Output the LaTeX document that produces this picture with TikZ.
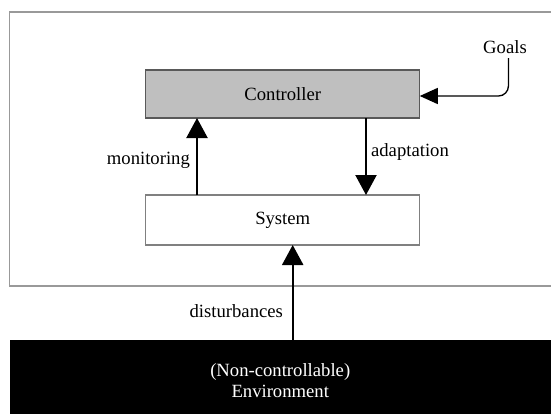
\documentclass[tikz,border=0pt]{standalone}
\usepackage{fontspec}
\setmainfont{Liberation Serif}
\usetikzlibrary{positioning}
\usetikzlibrary{arrows.meta}

\begin{document}
\begin{tikzpicture}[x=0.75pt, y=-0.75pt, outer sep=0, font=\fontsize{14}{15.75}\selectfont,
    box/.style={draw, rectangle, line width=1pt, minimum height=36pt, minimum width=205.5pt},
    flow/.style={line width=1.65pt, -{Triangle[width=15.75pt, length=15pt]}}]
        \useasboundingbox (0,0) rectangle (551,414);
        % outer frame
        \draw[black!40, line width=1pt] (9.5,12) rectangle (565,286);
        % controller and system
        \node [box, fill=gray!50, draw=black!65] (1) at (282.75,94) {Controller};
        \node [box, draw=black!50, minimum height=37.5pt, below = 57.75pt of 1] (2) {System};
        % environment
        \node [rectangle, fill=black, text=white, align=center, minimum width=406pt, minimum height=60.75pt] (3) at (280.25,380.5) {(Non-controllable)\\Environment};
        % goals
        \node (4) at (505,47) {Goals};
        \draw[line width=1pt, rounded corners=7.5pt, -{Triangle[width=12pt, length=13.5pt]}] ([xshift=2.6pt]4.south) |- ([yshift=-1.5pt]1.east);
        % feedback loop
        \draw[flow] (2.north -| 197,0) -- (1.south -| 197,0) node [pos=0.45, left=2pt] {monitoring};
        \draw[flow] (1.south -| 366,0) -- (2.north -| 366,0) node [pos=0.44, right=0.5pt] {adaptation};
        \draw[flow] (3.north -| 292.7,0) -- (2.south -| 292.7,0) node [pos=0.3, left=4pt] {disturbances};
\end{tikzpicture}
\end{document}
